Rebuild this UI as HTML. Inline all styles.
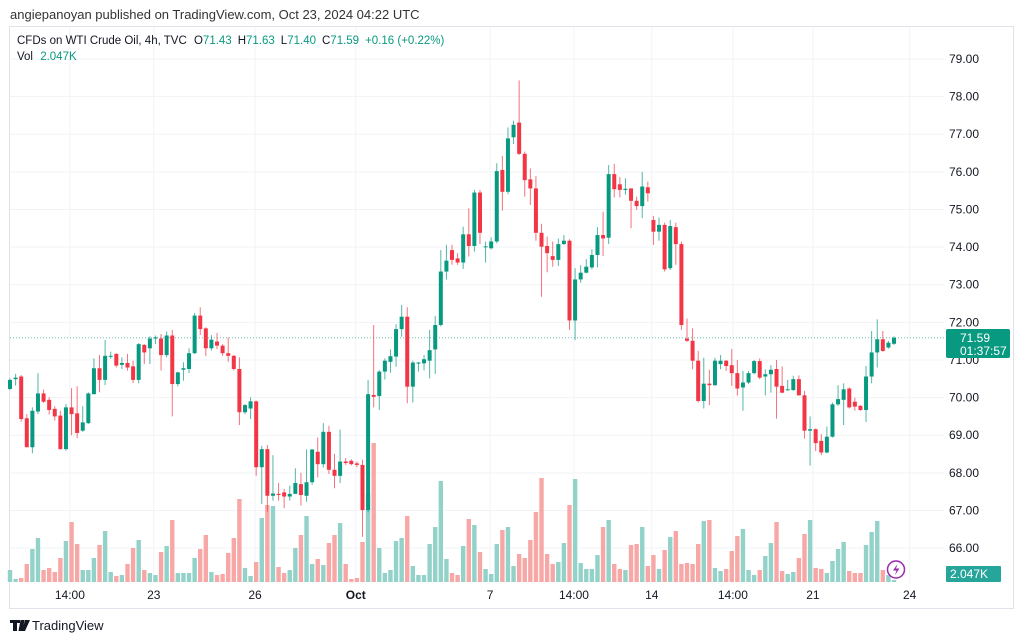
<!DOCTYPE html>
<html><head><meta charset="utf-8">
<style>
html,body{margin:0;padding:0;background:#fff;}
body{width:1024px;height:641px;overflow:hidden;position:relative;font-family:"Liberation Sans","DejaVu Sans",sans-serif;}
svg{position:absolute;left:0;top:0;}
text{font-family:"Liberation Sans","DejaVu Sans",sans-serif;}
</style></head>
<body>
<svg id="chart" width="1024" height="641" viewBox="0 0 1024 641">
  <text x="10" y="19" font-size="13" fill="#333">angiepanoyan published on TradingView.com, Oct 23, 2024 04:22 UTC</text>
  <rect x="9.5" y="26.5" width="1004" height="582" fill="none" stroke="#e0e3eb"/>
  <g id="grid"></g>
  <g id="vols"></g>
  <g id="candles"></g>
  <g id="yaxis"></g>
  <g id="xaxis"></g>
  <g font-size="11.5">
    <text x="17" y="44" fill="#131722">CFDs on WTI Crude Oil, 4h, TVC <tspan dx="4">O</tspan><tspan fill="#089981">71.43</tspan><tspan dx="6">H</tspan><tspan fill="#089981">71.63</tspan><tspan dx="6">L</tspan><tspan fill="#089981">71.40</tspan><tspan dx="6">C</tspan><tspan fill="#089981">71.59</tspan><tspan dx="6" fill="#089981">+0.16 (+0.22%)</tspan></text>
    <text x="17" y="60" fill="#131722">Vol <tspan dx="4" fill="#089981">2.047K</tspan></text>
  </g>
  <g>
    <rect x="946" y="329" width="64" height="29" rx="2" fill="#089981"/>
    <text x="960" y="342" font-size="12" fill="#fff">71.59</text>
    <text x="960" y="355" font-size="12" fill="#fff">01:37:57</text>
  </g>
  <g>
    <rect x="946" y="566" width="55" height="16" rx="1" fill="#26a69a"/>
    <text x="950" y="578" font-size="12" fill="#fff">2.047K</text>
  </g>
  <g>
    <circle cx="896" cy="569.5" r="8.5" fill="#fff" stroke="#9c27b0" stroke-width="1.5"/>
    <path d="M897.5 564 L893 570.5 L896.5 570.5 L895 575 L899.5 568.5 L896 568.5 Z" fill="#9c27b0"/>
  </g>
  <g>
    <path d="M10 620h10v3h-3v8h-4v-8h-3z M20.5 620h4l-2 11h-4z M25 620h5l-5 11h-3z" fill="#131722"/>
    <text x="32" y="630" font-size="13" fill="#131722">TradingView</text>
  </g>
</svg>
<script>
const opens=[70.23,70.49,70.56,69.45,68.68,69.63,70.11,69.94,69.70,69.52,68.63,69.74,69.58,69.12,69.32,70.09,70.78,70.47,71.10,71.16,70.87,70.92,70.83,70.47,71.40,71.31,71.57,71.57,71.13,71.65,70.36,70.74,70.76,71.18,72.18,71.84,71.31,71.49,71.38,71.18,71.11,70.76,69.61,69.71,69.90,68.15,68.63,67.39,67.44,67.48,67.37,67.44,67.70,67.39,67.75,68.56,68.23,69.09,68.08,67.92,68.30,68.32,68.25,68.21,67.01,70.07,70.04,70.69,70.95,71.09,71.82,72.15,70.29,70.91,70.91,70.98,71.28,71.93,73.35,73.92,73.70,73.59,74.34,74.03,75.45,74.00,73.97,74.15,76.05,75.47,76.92,77.31,76.48,75.80,75.56,74.38,74.03,73.76,73.66,74.08,74.17,72.05,73.14,73.32,73.46,73.79,74.32,74.25,75.94,75.67,75.52,75.56,75.23,75.09,75.59,74.72,74.41,74.59,73.44,74.53,74.08,71.57,71.51,70.98,69.91,70.37,70.33,70.89,70.98,70.86,70.65,70.27,70.40,70.65,70.97,70.56,70.62,70.76,70.31,70.20,70.20,70.49,70.06,69.12,69.16,68.85,68.54,68.96,69.82,69.94,70.24,69.89,69.78,69.67,70.56,71.20,71.55,71.33,71.43];
const highs=[70.51,70.63,70.60,69.56,69.74,70.65,70.21,70.01,69.77,69.65,69.83,70.25,70.30,69.77,70.14,71.04,71.13,71.53,71.22,71.18,71.07,71.16,70.98,71.45,71.42,71.63,71.65,71.69,71.76,71.80,70.69,70.94,71.31,72.25,72.40,71.87,71.66,71.72,71.42,71.60,71.13,71.07,69.83,70.01,69.92,68.72,68.74,68.47,67.73,67.57,67.66,68.12,68.00,68.62,68.63,68.94,69.32,69.25,68.50,69.15,68.39,68.36,68.30,68.35,70.47,71.93,70.73,71.04,71.28,71.95,72.46,72.40,70.98,70.95,71.13,71.80,72.17,73.92,74.06,74.06,73.84,74.54,75.03,75.52,75.52,74.15,74.26,76.23,76.42,77.18,77.36,78.43,76.54,76.09,75.89,74.62,74.28,74.15,74.23,74.32,74.21,73.44,73.52,73.68,73.94,74.53,74.94,76.18,76.21,75.86,75.83,75.56,75.34,76.00,75.74,74.83,74.79,74.65,74.72,74.65,74.15,72.10,71.84,71.24,71.06,70.74,71.06,71.13,71.00,71.29,71.00,70.71,70.71,71.00,71.04,70.75,70.86,71.00,70.83,70.47,70.58,70.59,70.18,69.50,69.18,69.03,69.23,69.87,70.33,70.38,70.27,70.00,69.80,70.84,71.77,72.08,71.77,71.51,71.63];
const lows=[70.20,70.32,69.36,68.68,68.52,69.56,69.86,69.55,69.39,68.62,68.59,69.00,68.92,69.09,69.30,70.09,70.14,70.33,71.03,70.80,70.76,70.72,70.39,70.38,70.89,70.89,71.42,70.72,71.07,69.50,70.30,70.45,70.65,71.16,71.66,71.10,71.25,71.29,71.11,70.95,70.72,69.27,69.56,69.43,67.92,67.17,66.97,67.26,67.26,67.06,67.26,67.44,67.13,67.23,67.68,67.88,68.14,67.97,67.59,67.73,68.21,68.20,68.15,66.30,66.95,69.74,69.67,70.48,70.66,70.82,71.62,69.85,69.87,70.69,70.72,70.51,70.63,71.89,73.14,73.53,73.53,73.42,73.75,73.88,74.08,73.59,73.94,74.10,74.97,75.41,76.74,76.45,75.34,75.12,74.17,72.68,73.33,73.48,73.50,74.06,71.80,71.53,73.05,73.30,73.41,73.46,73.76,74.08,75.32,75.32,75.39,74.50,74.99,74.77,75.21,74.06,74.17,73.35,73.39,73.53,71.80,71.48,70.75,69.87,69.71,69.80,70.31,70.75,70.71,70.31,70.05,69.65,70.36,70.62,70.49,70.06,70.13,69.44,70.12,70.18,70.18,70.05,68.91,68.19,68.58,68.47,68.52,68.94,69.78,69.27,69.71,69.65,69.65,69.35,70.38,70.80,71.22,71.30,71.40];
const closes=[70.47,70.53,69.43,68.68,69.65,70.11,69.89,69.67,69.50,68.63,69.74,69.56,69.06,69.34,70.11,70.78,70.47,71.11,71.11,70.85,70.92,70.80,70.47,71.42,71.20,71.57,71.60,71.13,71.65,70.36,70.67,70.78,71.18,72.18,71.82,71.31,71.54,71.38,71.18,71.11,70.76,69.61,69.80,69.90,68.15,68.63,67.39,67.45,67.41,67.37,67.44,67.73,67.41,67.75,68.62,68.23,69.09,68.08,67.92,68.30,68.26,68.23,68.21,67.01,70.09,70.02,70.69,70.98,71.10,71.82,72.15,70.29,70.93,70.93,71.02,71.26,71.93,73.35,73.64,73.66,73.59,74.34,74.03,75.45,74.38,74.02,74.15,76.02,75.47,76.89,77.25,76.48,75.78,75.56,74.38,74.01,73.84,73.66,74.08,74.17,72.05,73.14,73.32,73.48,73.79,74.32,74.23,75.94,75.54,75.52,75.55,75.23,75.09,75.61,75.43,74.41,74.59,73.41,74.56,74.08,71.93,71.51,70.98,69.91,70.37,70.33,70.98,70.98,70.84,70.65,70.24,70.40,70.65,70.97,70.53,70.62,70.74,70.29,70.13,70.22,70.49,70.06,69.12,69.16,68.79,68.54,68.96,69.82,69.96,70.22,69.74,69.76,69.67,70.56,71.20,71.55,71.24,71.46,71.59];
const volumes=[12,3,4,18,33,44,12,14,10,24,41,60,38,12,12,24,37,51,10,6,7,18,34,42,12,9,7,30,36,62,9,9,9,24,33,47,10,7,8,29,44,83,14,6,20,64,77,76,15,9,12,34,47,66,18,23,17,39,47,59,18,3,4,40,88,139,34,9,12,41,44,66,16,7,7,38,55,101,23,9,7,36,63,57,30,13,8,38,52,55,16,28,24,42,70,104,28,18,20,39,77,103,19,13,13,27,55,62,18,13,12,37,38,55,16,27,13,32,45,51,18,19,18,38,61,62,14,11,13,31,46,53,12,7,12,26,39,60,11,8,10,24,48,62,14,13,9,21,33,40,11,9,9,37,50,61,12,7,2];
const priceTicks=[79,78,77,76,75,74,73,72,71,70,69,68,67,66];
const timeLabels=["14:00","23","26","Oct","7","14:00","14","14:00","21","24"];
const timeIdx=[10.7,25.7,43.8,61.8,85.8,100.8,114.7,129.2,143.5,160.8];

const NS="http://www.w3.org/2000/svg";
const xOf=i=>10+i*5.595;
const yOf=p=>59+(79-p)*37.62;
const vOf=v=>582-v*1.0;
function mk(tag,attrs,parent){const e=document.createElementNS(NS,tag);for(const k in attrs)e.setAttribute(k,attrs[k]);parent.appendChild(e);return e;}
const grid=document.getElementById('grid'),yax=document.getElementById('yaxis'),xax=document.getElementById('xaxis');
priceTicks.forEach(p=>{
  const l=mk('line',{x1:10,x2:944,y1:yOf(p),y2:yOf(p),stroke:'#f2f3f6','stroke-width':1},grid);
  
  
  const t=mk('text',{x:949,y:yOf(p)+4,'font-size':12,fill:'#131722'},yax);
  t.textContent=p.toFixed(2);
  
  
});
timeLabels.forEach((s,k)=>{
  const x=xOf(timeIdx[k]);
  const l=mk('line',{x1:x,x2:x,y1:27,y2:583,stroke:'#f2f3f6','stroke-width':1},grid);
  
  
  const t=mk('text',{x:x,y:599,'font-size':12,fill:'#131722','text-anchor':'middle','font-weight':s==='Oct'?'bold':'normal'},xax);
  t.textContent=s;
  
  
});
const dl=mk('line',{x1:10,x2:944,y1:yOf(closes[closes.length-1]),y2:yOf(closes[closes.length-1]),stroke:'#089981','stroke-width':1,'stroke-dasharray':'1 2',opacity:0.6},grid);


const vg=document.getElementById('vols'),cg=document.getElementById('candles');
volumes.forEach((v,i)=>{
  const up=closes[i]>=opens[i];
  const r=mk('rect',{x:xOf(i)-2.2,y:vOf(v),width:4.4,height:Math.max(582-vOf(v),0.5),fill:up?'#92d2c9':'#f7a8a6'},vg);
  
  
});
opens.forEach((o,i)=>{
  const c=closes[i],up=c>=o,col=up?'#089981':'#f23645',x=xOf(i);
  const w=mk('line',{x1:x,x2:x,y1:yOf(highs[i]),y2:yOf(lows[i]),stroke:col,'stroke-width':1,opacity:0.7},cg);
  
  
  const top=yOf(Math.max(o,c)),bot=yOf(Math.min(o,c));
  const b=mk('rect',{x:x-2,y:top,width:4,height:Math.max(bot-top,1),fill:col},cg);
  
  
});
</script>
</body></html>
